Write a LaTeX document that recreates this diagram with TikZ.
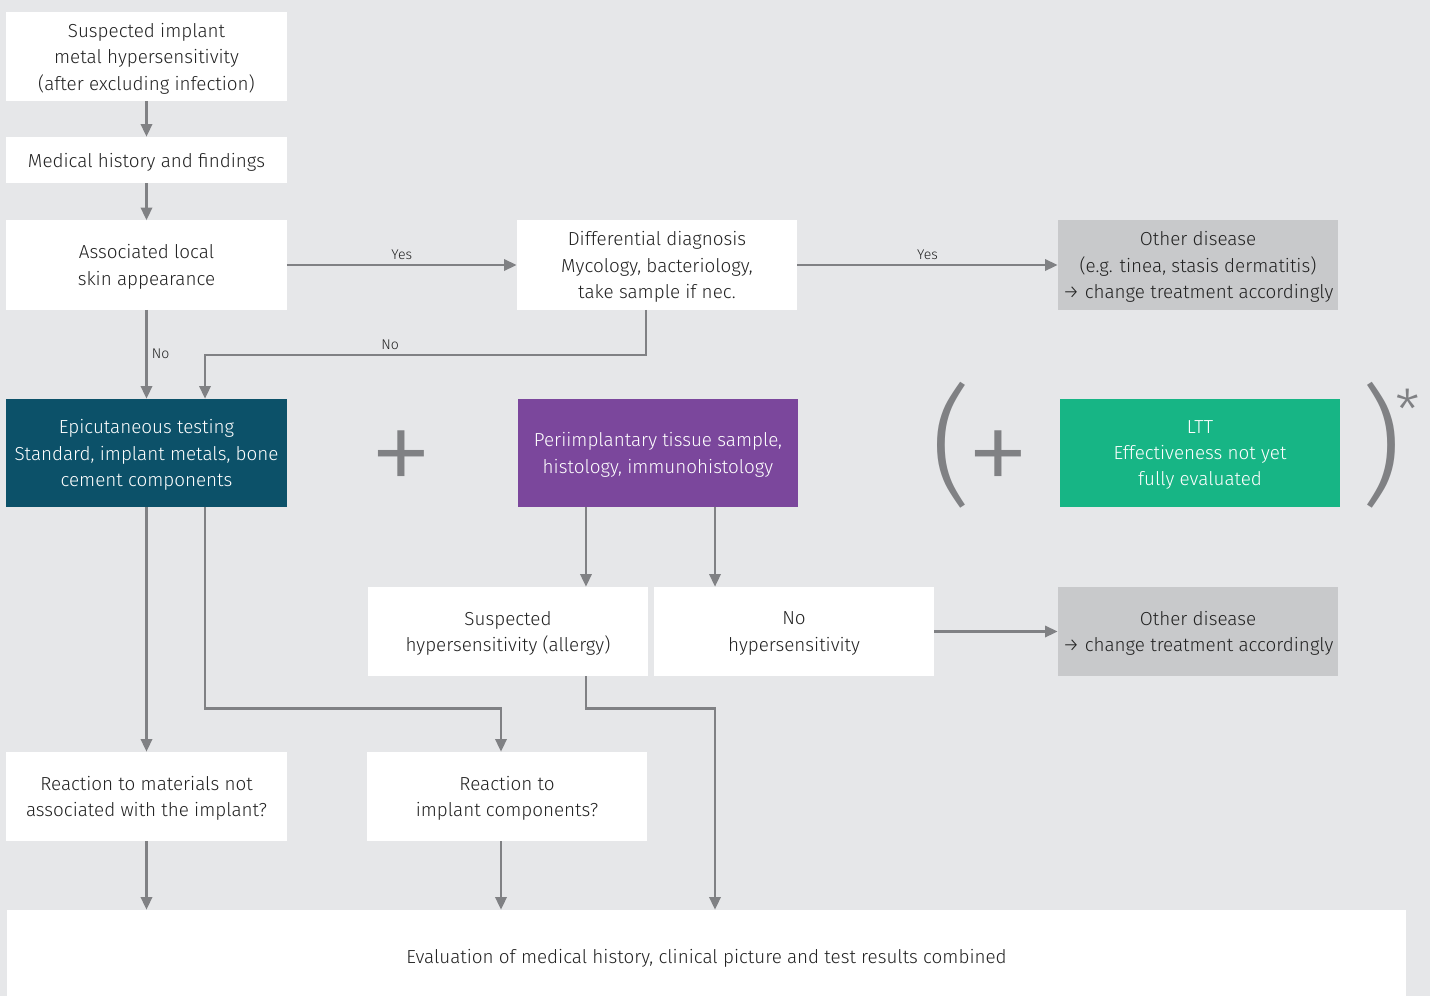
\documentclass[tikz,border=0pt]{standalone}
\usepackage{fontspec}
\setmainfont{Fira Sans Light}
\usetikzlibrary{arrows.meta,positioning}

\definecolor{bggray}{HTML}{E6E7E9}
\definecolor{linegray}{HTML}{808184}
\definecolor{othergray}{HTML}{C8C9CB}
\definecolor{textgray}{HTML}{222222}
\definecolor{epiblue}{HTML}{0C5169}
\definecolor{peripurple}{HTML}{7B479C}
\definecolor{lttgreen}{HTML}{17B585}

\begin{document}
\begin{tikzpicture}[x=0.025cm,y=-0.025cm,>={Triangle[length=9pt,width=8pt]},font=\fontsize{13.4}{18.8}\selectfont]
	\tikzstyle{box}=[rectangle,fill=white,text=textgray,minimum width=7cm,minimum height=2.225cm,inner sep=0pt,align=center,text depth=0pt]
	\tikzstyle{link}=[->,draw=linegray,line width=1.8pt]
	\tikzstyle{answer}=[font=\fontsize{10}{11}\selectfont,text=textgray,inner sep=3pt]
	\tikzstyle{sign}=[text=linegray,inner ysep=0pt,inner xsep=-8pt,font=\fontsize{92}{92}\selectfont]
	\tikzstyle{paren}=[sign,inner xsep=-7pt]

	\useasboundingbox (0,0) rectangle (1430,996);
	\fill[bggray] (0,0) rectangle (1430,996);

	\node[box] (suspect) at (146.5,56.5) {Suspected implant\\metal hypersensitivity\\(after excluding infection)};
	\node[box,minimum height=1.15cm] (history) at (146.5,160) {Medical history and findings};
	\node[box] (skin) at (146.5,265) {Associated local\\skin appearance};
	\node[box] (diff) at (657,265) {Differential diagnosis\\Mycology, bacteriology,\\take sample if nec.};
	\node[box,fill=othergray] (other1) at (1198,265) {Other disease\\(e.g. tinea, stasis dermatitis)\\→ change treatment accordingly};

	\node[box,fill=epiblue,text=white,minimum height=2.7cm] (epi) at (146.5,453) {Epicutaneous testing\\Standard, implant metals, bone\\cement components};
	\node[sign] (plus1) at (401,464) {+};
	\node[box,fill=peripurple,text=white,minimum height=2.7cm] (peri) at (658,453) {Periimplantary tissue sample,\\histology, immunohistology};
	\node[paren] (lpar) at (951,445) {(};
	\node[sign] (plus2) at (998,464) {+};
	\node[box,fill=lttgreen,text=white,minimum height=2.7cm] (ltt) at (1200,453) {LTT\\Effectiveness not yet\\fully evaluated};
	\node[paren] (rpar) at (1381,445) {)};
	\node[sign,font=\fontsize{40}{40}\selectfont,inner xsep=-3pt] (star) at (1408,410) {*};

	\node[box] (allergy) at (508,631.5) {Suspected\\hypersensitivity (allergy)};
	\node[box] (nohyp) at (794,631.5) {No\\hypersensitivity};
	\node[box,fill=othergray] (other2) at (1198,631.5) {Other disease\\→ change treatment accordingly};

	\node[box] (foreign) at (146.5,796.5) {Reaction to materials not\\associated with the implant?};
	\node[box] (implant) at (507,796.5) {Reaction to\\implant components?};

	\node[box,minimum width=34.975cm,minimum height=2.3cm] (eval) at (706.5,956) {Evaluation of medical history, clinical picture and test results combined};

	% upper part
	\draw[link] (suspect) -- (history);
	\draw[link] (history) -- (skin);
	\draw[link] (skin) -- (diff) node[midway,above,answer] {Yes};
	\draw[link] (diff) -- (other1) node[midway,above,answer] {Yes};
	\draw[link] (skin) -- (epi) node[midway,right,answer] {No};
	\draw[link] ([xshift=-0.275cm]diff.south) -- ++(0,45) -| ([xshift=1.4625cm]epi.north) node[pos=0.29,above,answer] {No};

	% tests
	\draw[link] (epi) -- (foreign);
	\draw[link] ([xshift=1.4625cm]epi.south) -- ++(0,201) -| ([xshift=-0.15cm]implant.north);
	\draw[link] ([xshift=-1.8cm]peri.south) -- ([xshift=-1.8cm]peri.south |- allergy.north);
	\draw[link] ([xshift=1.425cm]peri.south) -- ([xshift=1.425cm]peri.south |- nohyp.north);
	\draw[link] (nohyp) -- (other2);

	% evaluation
	\draw[link] (foreign.south) -- (foreign.south |- eval.north);
	\draw[link] ([xshift=-0.15cm]implant.south) -- ([xshift=-0.15cm]implant.south |- eval.north);
	\draw[link] ([xshift=1.95cm]allergy.south) -- ++(0,32) -| ([xshift=0.2125cm]eval.north);
\end{tikzpicture}
\end{document}
